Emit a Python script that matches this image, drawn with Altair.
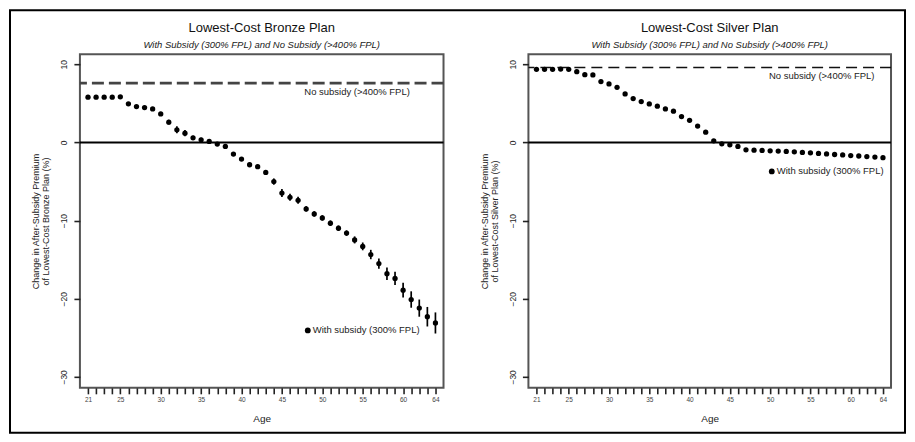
import altair as alt
import pandas as pd

# ---------------- data ----------------
ages = list(range(21, 65))

bronze = [5.8, 5.8, 5.8, 5.8, 5.85,
          4.95, 4.6, 4.47, 4.3, 3.66,
          2.6, 1.62, 1.19, 0.6, 0.34,
          0.13, -0.2, -0.5, -1.49, -2.13,
          -2.85, -3.1, -3.83, -5.0, -6.47,
          -7.02, -7.4, -8.5, -9.15, -9.66,
          -10.34, -10.98, -11.6, -12.47, -13.3,
          -14.34, -15.5, -16.8, -17.4, -18.9,
          -20.1, -21.2, -22.3, -23.1]

bronze_err = [0.1, 0.1, 0.1, 0.1, 0.1,
              0.1, 0.1, 0.1, 0.1, 0.15,
              0.3, 0.45, 0.4, 0.25, 0.25,
              0.25, 0.25, 0.25, 0.25, 0.25,
              0.25, 0.25, 0.25, 0.4, 0.5,
              0.45, 0.45, 0.35, 0.35, 0.35,
              0.35, 0.35, 0.35, 0.45, 0.5,
              0.6, 0.65, 0.8, 0.85, 0.95,
              1.05, 1.1, 1.25, 1.35]

silver = [9.36, 9.36, 9.36, 9.4, 9.36,
          9.06, 8.68, 8.64, 7.79, 7.49,
          7.06, 6.21, 5.62, 5.23, 4.94,
          4.64, 4.3, 4.0, 3.32, 2.83,
          2.1, 1.32, 0.21, -0.17, -0.3,
          -0.51, -0.94, -0.98, -1.02, -1.07,
          -1.1, -1.15, -1.2, -1.27, -1.33,
          -1.4, -1.47, -1.54, -1.6, -1.67,
          -1.73, -1.8, -1.87, -1.95]

silver_err = [0.08] * 44

bronze_nosub = 7.6
silver_nosub = 9.6

x_label_ages = [21, 25, 30, 35, 40, 45, 50, 55, 60, 64]
y_ticks = [-30, -20, -10, 0, 10]

titles = ["Lowest-Cost Bronze Plan", "Lowest-Cost Silver Plan"]
subtitle = "With Subsidy (300% FPL) and No Subsidy (>400% FPL)"
ytitles = [["Change in After-Subsidy Premium", "of Lowest-Cost Bronze Plan (%)"],
           ["Change in After-Subsidy Premium", "of Lowest-Cost Silver Plan (%)"]]
nosub_label = "No subsidy (>400% FPL)"
sub_label = "With subsidy (300% FPL)"

FONT = "Liberation Sans"
H = 334


def panel(vals, errs, nosub, title, ytitle, width, dash, dash_w, dash_col,
          nosub_xy, sub_xy, frame=False):
    df = pd.DataFrame({
        "age": ages,
        "val": vals,
        "lo": [v - e for v, e in zip(vals, errs)],
        "hi": [v + e for v, e in zip(vals, errs)],
    })
    xs = alt.Scale(domain=[20, 65], nice=False, zero=False)
    ys = alt.Scale(domain=[-31.4, 11.3], nice=False, zero=False)
    lab_expr = "indexof(%s, datum.value) >= 0 ? datum.label : ''" % str(x_label_ages)
    xaxis = alt.Axis(values=ages, labelExpr=lab_expr, labelOverlap=False,
                     domain=False, tickSize=6, tickWidth=1.6, tickColor="#222",
                     labelFontSize=6.5, labelColor="#444", labelPadding=3,
                     labelFont=FONT, grid=False, titleFont=FONT,
                     titleFontSize=10, titleFontWeight="normal", titleColor="#222",
                     titleY=31, titleBaseline="middle")
    yaxis = alt.Axis(values=y_ticks, domain=False, tickSize=6, tickWidth=1.6,
                     tickColor="#222", labelAngle=270, labelAlign="center",
                     labelBaseline="bottom", labelPadding=5, labelFontSize=8.5,
                     labelColor="#222", labelFont=FONT, grid=False,
                     titleFont=FONT, titleFontSize=9, titleFontWeight="normal",
                     titleColor="#222", titleAngle=270, titleAlign="center",
                     titleBaseline="bottom", titleX=-39, titleY=H / 2,
                     titleLineHeight=10)

    def X(f):
        return alt.X(f, type="quantitative", scale=xs, axis=xaxis, title="Age")

    def Y(f):
        return alt.Y(f, type="quantitative", scale=ys, axis=yaxis, title=ytitle)

    base = alt.Chart(df)
    err = base.mark_rule(color="black", strokeWidth=1.7).encode(
        x=X("age"), y=Y("lo"), y2="hi:Q")
    pts = base.mark_circle(size=28, color="black", opacity=1).encode(
        x=X("age"), y=Y("val"))
    zero = alt.Chart(pd.DataFrame({"val": [0]})).mark_rule(
        color="black", strokeWidth=1.8).encode(y=Y("val"))
    dashed = alt.Chart(pd.DataFrame({"val": [nosub]})).mark_rule(
        color=dash_col, strokeWidth=dash_w, strokeDash=dash).encode(y=Y("val"))
    t1 = alt.Chart(pd.DataFrame({"age": [nosub_xy[0]], "val": [nosub_xy[1]],
                                 "label": [nosub_label]})).mark_text(
        font=FONT, fontSize=9.5, color="#222", align="center", baseline="middle"
    ).encode(x=X("age"), y=Y("val"), text="label:N")
    bullet = alt.Chart(pd.DataFrame({"age": [sub_xy[0]], "val": [sub_xy[1]]})).mark_circle(
        size=34, color="black", opacity=1).encode(x=X("age"), y=Y("val"))
    t2 = alt.Chart(pd.DataFrame({"age": [sub_xy[0]], "val": [sub_xy[1]],
                                 "label": [sub_label]})).mark_text(
        font=FONT, fontSize=9.5, color="#222", align="left", baseline="middle", dx=5
    ).encode(x=X("age"), y=Y("val"), text="label:N")

    ttl = alt.Chart(pd.DataFrame({"label": [title]})).mark_text(
        font=FONT, fontSize=13, color="#111", align="center", baseline="middle"
    ).encode(x=alt.value(width / 2), y=alt.value(-26), text="label:N")
    sttl = alt.Chart(pd.DataFrame({"label": [subtitle]})).mark_text(
        font=FONT, fontSize=9.5, fontStyle="italic", color="#222",
        align="center", baseline="middle"
    ).encode(x=alt.value(width / 2), y=alt.value(-9), text="label:N")

    layers = [zero, dashed, err, pts, t1, bullet, t2, ttl, sttl]
    if frame:
        fr = alt.Chart(pd.DataFrame({"k": [0]})).mark_rect(
            filled=False, stroke="black", strokeWidth=2).encode(
            x=alt.value(-70), x2=alt.value(826), y=alt.value(-44), y2=alt.value(379))
        layers.append(fr)

    return alt.layer(*layers).properties(width=width, height=H)


left = panel(bronze, bronze_err, bronze_nosub, titles[0], ytitles[0], 364,
             [12, 5], 2.6, "#444", (54.3, 6.5), (48.2, -24.05), frame=True)
right = panel(silver, silver_err, silver_nosub, titles[1], ytitles[1], 363,
              [11, 6], 1.5, "#111", (56.4, 8.55), (50.2, -3.7))

chart = alt.hconcat(left, right, spacing=85, bounds="flush").properties(
    padding=0, background="white"
).configure_view(stroke="#555", strokeWidth=2)

chart.save("out.html", embed_options={"renderer": "svg", "actions": False})
